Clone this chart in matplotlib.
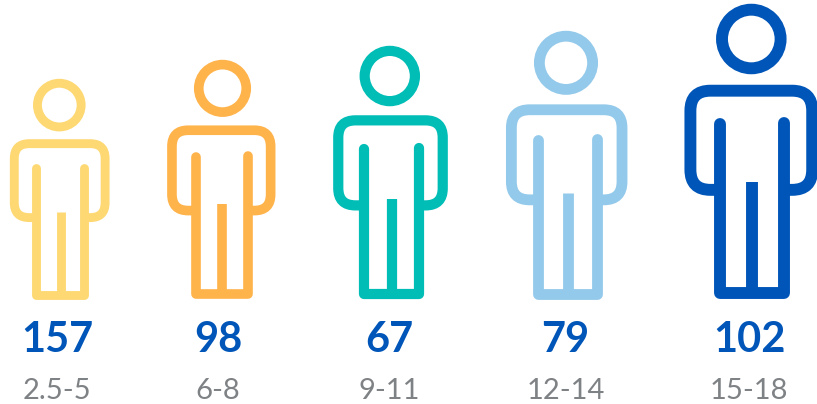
import matplotlib
matplotlib.use("Agg")
import matplotlib.pyplot as plt
from matplotlib.path import Path
from matplotlib.patches import PathPatch, Circle

plt.rcParams["font.family"] = ["Lato", "DejaVu Sans"]

counts = [157, 98, 67, 79, 102]
ages = ["2.5-5", "6-8", "9-11", "12-14", "15-18"]
colors = ["#FDD873", "#FFB34B", "#00BDB6", "#93C9EA", "#0055B8"]

# layout in pixels of the 817x404 picture
person_x = [59.7, 221.3, 390.5, 566.7, 751.3]
head_x = [59.3, 222.5, 389.8, 566, 751.3]
person_h = [220, 239, 253, 268, 295]
text_x = [57, 218, 389, 565.5, 749]
ground = 299
BASE_H = 295


def draw_person(ax, cx, hx, h, color):
    s = h / BASE_H
    lw = 11.9 * s * 0.72

    def X(v):
        return cx + v * s

    def Y(v):
        return ground - v * s

    ax.add_patch(Circle((hx, Y(260)), 29.3 * s, fill=False, ec=color, lw=lw))

    # shoulders and arms
    w, leg, top, arm, r = 60.9, 32.15, 208.3, 109.15, 20
    off = 1.0
    verts = [(-leg + off, arm), (-w + r, arm), (-w, arm), (-w, arm + r), (-w, top - r), (-w, top),
             (-w + r, top), (w - r, top), (w, top), (w, top - r), (w, arm + r), (w, arm),
             (w - r, arm), (leg + off, arm)]
    codes = [Path.MOVETO, Path.LINETO, Path.CURVE3, Path.CURVE3, Path.LINETO, Path.CURVE3,
             Path.CURVE3, Path.LINETO, Path.CURVE3, Path.CURVE3, Path.LINETO, Path.CURVE3,
             Path.CURVE3, Path.LINETO]
    body = Path([(X(a), Y(b)) for a, b in verts], codes)
    ax.add_patch(PathPatch(body, fill=False, ec=color, lw=lw, capstyle="butt", joinstyle="round"))

    # legs
    legs = Path([(X(-leg + off), Y(175)), (X(-leg + off), Y(5.85)),
                 (X(leg + off), Y(5.85)), (X(leg + off), Y(176))])
    ax.add_patch(PathPatch(legs, fill=False, ec=color, lw=lw, capstyle="round", joinstyle="round"))

    inner = Path([(X(1.2), Y(117)), (X(1.2), Y(5.85))])
    ax.add_patch(PathPatch(inner, fill=False, ec=color, lw=lw, capstyle="butt"))


fig = plt.figure(figsize=(8.17, 4.04), dpi=100)
ax = fig.add_axes([0, 0, 1, 1])
ax.set_xlim(0, 817)
ax.set_ylim(404, 0)
ax.axis("off")

for i in range(len(counts)):
    draw_person(ax, person_x[i], head_x[i], person_h[i], colors[i])
    ax.text(text_x[i], 352, str(counts[i]), ha="center", va="baseline",
            fontsize=30, fontweight="bold", color="#0055B8")
    ax.text(text_x[i], 399, ages[i], ha="center", va="baseline",
            fontsize=21, color="#7F8285")

fig.savefig("out.png", dpi=100)
